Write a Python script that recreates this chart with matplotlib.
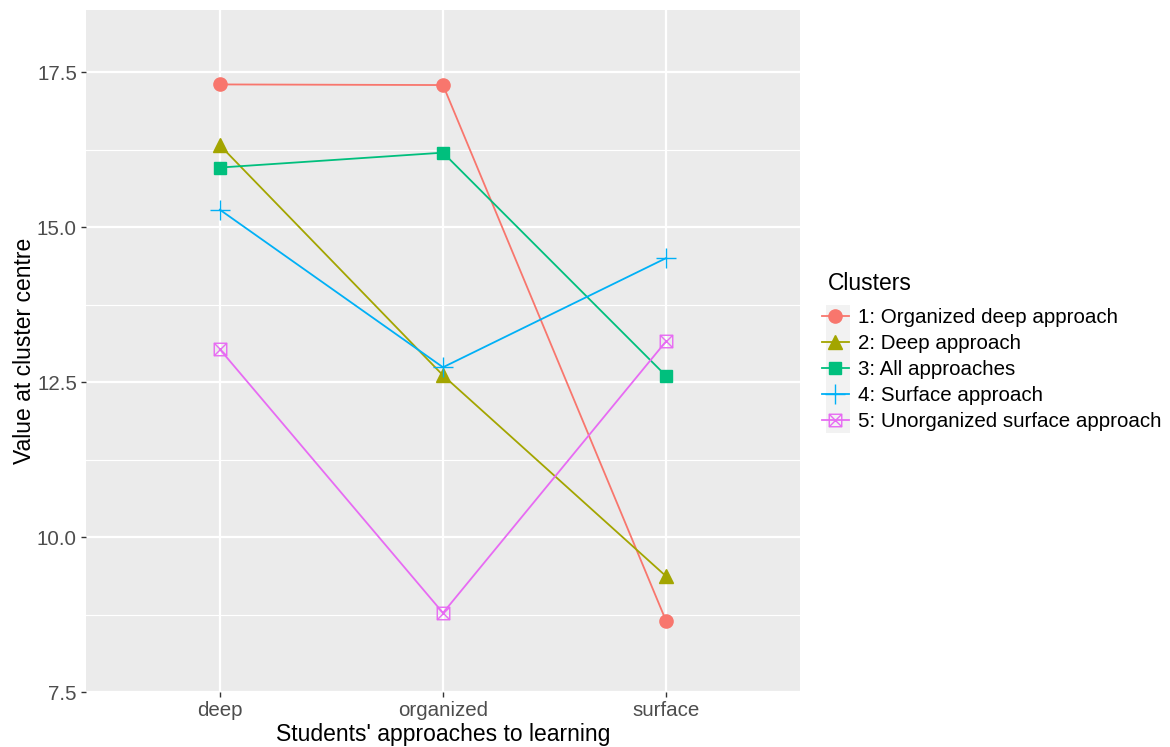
import matplotlib
matplotlib.use("Agg")
import matplotlib.pyplot as plt
from matplotlib.path import Path
from matplotlib.patches import Rectangle

plt.rcParams['font.family'] = ['Liberation Sans', 'DejaVu Sans']

# data
approaches = ['deep', 'organized', 'surface']
clusters = ['1: Organized deep approach', '2: Deep approach', '3: All approaches',
            '4: Surface approach', '5: Unorganized surface approach']
c1 = [17.30, 17.29, 8.65]
c2 = [16.32, 12.61, 9.37]
c3 = [15.96, 16.20, 12.60]
c4 = [15.28, 12.74, 14.50]
c5 = [13.03, 8.78, 13.16]
values = [c1, c2, c3, c4, c5]

colors = ['#F8766D', '#A3A500', '#00BF7D', '#00B0F6', '#E76BF3']

# square with an X, like ggplot shape 7
boxx = Path([(-1, -1), (1, -1), (1, 1), (-1, 1), (-1, -1), (-1, -1), (1, 1), (-1, 1), (1, -1)],
            [Path.MOVETO, Path.LINETO, Path.LINETO, Path.LINETO, Path.CLOSEPOLY,
             Path.MOVETO, Path.LINETO, Path.MOVETO, Path.LINETO])
styles = [dict(marker='o', markersize=9.5),
          dict(marker='^', markersize=10.5),
          dict(marker='s', markersize=8.5),
          dict(marker='+', markersize=15, markeredgewidth=1.0),
          dict(marker=boxx, markersize=9, markerfacecolor='none', markeredgewidth=1.0)]

fig = plt.figure(figsize=(11.7, 7.47), dpi=100)
ax = fig.add_axes([86 / 1170, 1 - 692.3 / 747, (800 - 86) / 1170, (692.3 - 10) / 747])
ax.set_facecolor('#EBEBEB')
for s in ax.spines.values():
    s.set_visible(False)

x = list(range(1, len(approaches) + 1))
handles = []
for vals, col, st, lab in zip(values, colors, styles, clusters):
    h, = ax.plot(x, vals, color=col, lw=1.3, markeredgecolor=col,
                 **{'markerfacecolor': col, **st}, label=lab, zorder=3)
    handles.append(h)

ax.set_xticks(x)
ax.set_xticklabels(approaches)
ax.set_yticks([7.5, 10.0, 12.5, 15.0, 17.5])
ax.set_yticklabels(['7.5', '10.0', '12.5', '15.0', '17.5'])
ax.set_yticks([8.75, 11.25, 13.75, 16.25], minor=True)
ax.set_xlim(0.4, 3.6)
ax.set_ylim(7.5, 18.5)
ax.grid(which='major', color='white', lw=1.6, zorder=0)
ax.grid(which='minor', axis='y', color='white', lw=0.8, zorder=0)
ax.set_axisbelow(True)
ax.tick_params(which='major', length=3.5, width=1, color='#333333', labelcolor='#4D4D4D',
               labelsize=14.8, pad=3)
ax.tick_params(which='minor', length=0)
ax.set_xlabel("Students' approaches to learning", fontsize=16.5, labelpad=2)
ax.set_ylabel('Value at cluster centre', fontsize=16.5, labelpad=1)

fig.text(828 / 1170, 1 - 283 / 747, 'Clusters', fontsize=16.5, ha='left', va='center')
leg = fig.legend(handles=handles, labels=clusters, loc='upper left',
                 bbox_to_anchor=(822 / 1170, 1 - 308 / 747), frameon=False,
                 fontsize=14.8, handlelength=1.3, handletextpad=0.45,
                 labelspacing=0.34, borderaxespad=0, borderpad=0)

# grey key background like ggplot
fig.patches.append(Rectangle((826 / 1170, 1 - 433 / 747), 24 / 1170, 128 / 747,
                             transform=fig.transFigure, facecolor='#F2F2F2',
                             edgecolor='none', zorder=0))

fig.savefig('out.png', dpi=100)
